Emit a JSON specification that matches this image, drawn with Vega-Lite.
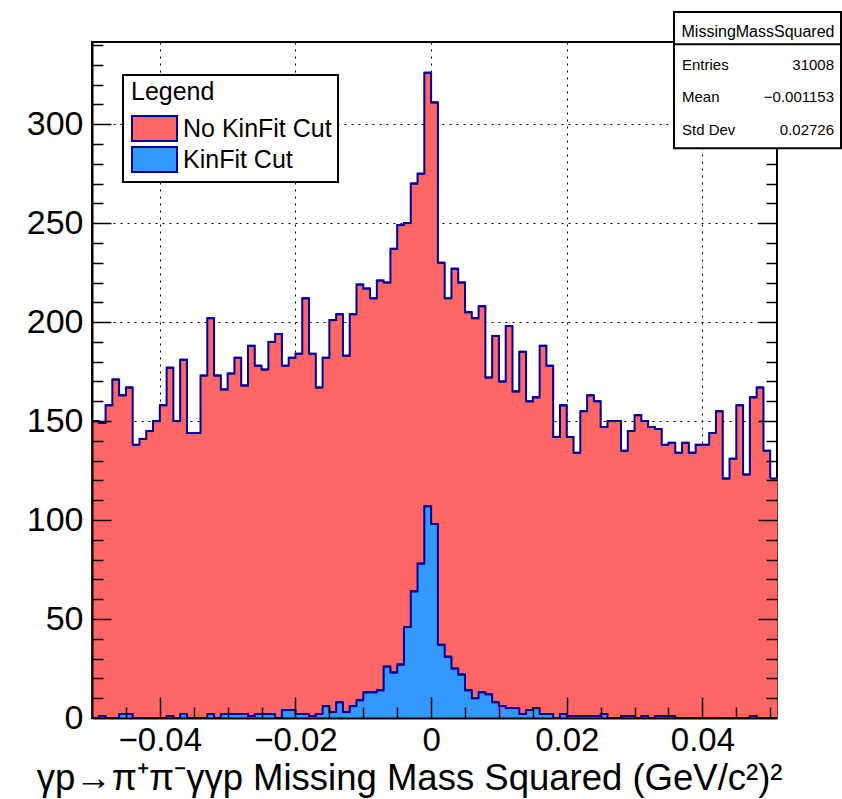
{
  "$schema": "https://vega.github.io/schema/vega-lite/v6.json",
  "width": 685,
  "height": 676,
  "autosize": {"type": "none"},
  "padding": {"left": 92, "top": 42, "right": 65, "bottom": 81},
  "background": "white",
  "config": {
    "view": {"stroke": "black", "strokeWidth": 2},
    "font": "Liberation Sans"
  },
  "datasets": {
    "red": [
      {"s":"No KinFit Cut","lo":-0.050,"hi":-0.049,"n":150},
      {"s":"No KinFit Cut","lo":-0.049,"hi":-0.048,"n":149},
      {"s":"No KinFit Cut","lo":-0.048,"hi":-0.047,"n":158},
      {"s":"No KinFit Cut","lo":-0.047,"hi":-0.046,"n":171},
      {"s":"No KinFit Cut","lo":-0.046,"hi":-0.045,"n":163},
      {"s":"No KinFit Cut","lo":-0.045,"hi":-0.044,"n":167},
      {"s":"No KinFit Cut","lo":-0.044,"hi":-0.043,"n":138},
      {"s":"No KinFit Cut","lo":-0.043,"hi":-0.042,"n":141},
      {"s":"No KinFit Cut","lo":-0.042,"hi":-0.041,"n":145},
      {"s":"No KinFit Cut","lo":-0.041,"hi":-0.040,"n":150},
      {"s":"No KinFit Cut","lo":-0.040,"hi":-0.039,"n":158},
      {"s":"No KinFit Cut","lo":-0.039,"hi":-0.038,"n":177},
      {"s":"No KinFit Cut","lo":-0.038,"hi":-0.037,"n":150},
      {"s":"No KinFit Cut","lo":-0.037,"hi":-0.036,"n":181},
      {"s":"No KinFit Cut","lo":-0.036,"hi":-0.035,"n":144},
      {"s":"No KinFit Cut","lo":-0.035,"hi":-0.034,"n":144},
      {"s":"No KinFit Cut","lo":-0.034,"hi":-0.033,"n":173},
      {"s":"No KinFit Cut","lo":-0.033,"hi":-0.032,"n":202},
      {"s":"No KinFit Cut","lo":-0.032,"hi":-0.031,"n":173},
      {"s":"No KinFit Cut","lo":-0.031,"hi":-0.030,"n":166},
      {"s":"No KinFit Cut","lo":-0.030,"hi":-0.029,"n":174},
      {"s":"No KinFit Cut","lo":-0.029,"hi":-0.028,"n":182},
      {"s":"No KinFit Cut","lo":-0.028,"hi":-0.027,"n":168},
      {"s":"No KinFit Cut","lo":-0.027,"hi":-0.026,"n":188},
      {"s":"No KinFit Cut","lo":-0.026,"hi":-0.025,"n":178},
      {"s":"No KinFit Cut","lo":-0.025,"hi":-0.024,"n":176},
      {"s":"No KinFit Cut","lo":-0.024,"hi":-0.023,"n":190},
      {"s":"No KinFit Cut","lo":-0.023,"hi":-0.022,"n":194},
      {"s":"No KinFit Cut","lo":-0.022,"hi":-0.021,"n":178},
      {"s":"No KinFit Cut","lo":-0.021,"hi":-0.020,"n":182},
      {"s":"No KinFit Cut","lo":-0.020,"hi":-0.019,"n":184},
      {"s":"No KinFit Cut","lo":-0.019,"hi":-0.018,"n":212},
      {"s":"No KinFit Cut","lo":-0.018,"hi":-0.017,"n":184},
      {"s":"No KinFit Cut","lo":-0.017,"hi":-0.016,"n":167},
      {"s":"No KinFit Cut","lo":-0.016,"hi":-0.015,"n":182},
      {"s":"No KinFit Cut","lo":-0.015,"hi":-0.014,"n":201},
      {"s":"No KinFit Cut","lo":-0.014,"hi":-0.013,"n":204},
      {"s":"No KinFit Cut","lo":-0.013,"hi":-0.012,"n":183},
      {"s":"No KinFit Cut","lo":-0.012,"hi":-0.011,"n":204},
      {"s":"No KinFit Cut","lo":-0.011,"hi":-0.010,"n":219},
      {"s":"No KinFit Cut","lo":-0.010,"hi":-0.009,"n":217},
      {"s":"No KinFit Cut","lo":-0.009,"hi":-0.008,"n":212},
      {"s":"No KinFit Cut","lo":-0.008,"hi":-0.007,"n":221},
      {"s":"No KinFit Cut","lo":-0.007,"hi":-0.006,"n":220},
      {"s":"No KinFit Cut","lo":-0.006,"hi":-0.005,"n":237},
      {"s":"No KinFit Cut","lo":-0.005,"hi":-0.004,"n":249},
      {"s":"No KinFit Cut","lo":-0.004,"hi":-0.003,"n":250},
      {"s":"No KinFit Cut","lo":-0.003,"hi":-0.002,"n":270},
      {"s":"No KinFit Cut","lo":-0.002,"hi":-0.001,"n":275},
      {"s":"No KinFit Cut","lo":-0.001,"hi":0.000,"n":326},
      {"s":"No KinFit Cut","lo":0.000,"hi":0.001,"n":311},
      {"s":"No KinFit Cut","lo":0.001,"hi":0.002,"n":230},
      {"s":"No KinFit Cut","lo":0.002,"hi":0.003,"n":212},
      {"s":"No KinFit Cut","lo":0.003,"hi":0.004,"n":227},
      {"s":"No KinFit Cut","lo":0.004,"hi":0.005,"n":220},
      {"s":"No KinFit Cut","lo":0.005,"hi":0.006,"n":205},
      {"s":"No KinFit Cut","lo":0.006,"hi":0.007,"n":202},
      {"s":"No KinFit Cut","lo":0.007,"hi":0.008,"n":208},
      {"s":"No KinFit Cut","lo":0.008,"hi":0.009,"n":172},
      {"s":"No KinFit Cut","lo":0.009,"hi":0.010,"n":193},
      {"s":"No KinFit Cut","lo":0.010,"hi":0.011,"n":170},
      {"s":"No KinFit Cut","lo":0.011,"hi":0.012,"n":198},
      {"s":"No KinFit Cut","lo":0.012,"hi":0.013,"n":165},
      {"s":"No KinFit Cut","lo":0.013,"hi":0.014,"n":185},
      {"s":"No KinFit Cut","lo":0.014,"hi":0.015,"n":160},
      {"s":"No KinFit Cut","lo":0.015,"hi":0.016,"n":162},
      {"s":"No KinFit Cut","lo":0.016,"hi":0.017,"n":188},
      {"s":"No KinFit Cut","lo":0.017,"hi":0.018,"n":178},
      {"s":"No KinFit Cut","lo":0.018,"hi":0.019,"n":142},
      {"s":"No KinFit Cut","lo":0.019,"hi":0.020,"n":158},
      {"s":"No KinFit Cut","lo":0.020,"hi":0.021,"n":142},
      {"s":"No KinFit Cut","lo":0.021,"hi":0.022,"n":134},
      {"s":"No KinFit Cut","lo":0.022,"hi":0.023,"n":155},
      {"s":"No KinFit Cut","lo":0.023,"hi":0.024,"n":163},
      {"s":"No KinFit Cut","lo":0.024,"hi":0.025,"n":160},
      {"s":"No KinFit Cut","lo":0.025,"hi":0.026,"n":147},
      {"s":"No KinFit Cut","lo":0.026,"hi":0.027,"n":150},
      {"s":"No KinFit Cut","lo":0.027,"hi":0.028,"n":150},
      {"s":"No KinFit Cut","lo":0.028,"hi":0.029,"n":135},
      {"s":"No KinFit Cut","lo":0.029,"hi":0.030,"n":145},
      {"s":"No KinFit Cut","lo":0.030,"hi":0.031,"n":153},
      {"s":"No KinFit Cut","lo":0.031,"hi":0.032,"n":150},
      {"s":"No KinFit Cut","lo":0.032,"hi":0.033,"n":147},
      {"s":"No KinFit Cut","lo":0.033,"hi":0.034,"n":146},
      {"s":"No KinFit Cut","lo":0.034,"hi":0.035,"n":138},
      {"s":"No KinFit Cut","lo":0.035,"hi":0.036,"n":139},
      {"s":"No KinFit Cut","lo":0.036,"hi":0.037,"n":134},
      {"s":"No KinFit Cut","lo":0.037,"hi":0.038,"n":139},
      {"s":"No KinFit Cut","lo":0.038,"hi":0.039,"n":134},
      {"s":"No KinFit Cut","lo":0.039,"hi":0.040,"n":138},
      {"s":"No KinFit Cut","lo":0.040,"hi":0.041,"n":138},
      {"s":"No KinFit Cut","lo":0.041,"hi":0.042,"n":144},
      {"s":"No KinFit Cut","lo":0.042,"hi":0.043,"n":155},
      {"s":"No KinFit Cut","lo":0.043,"hi":0.044,"n":121},
      {"s":"No KinFit Cut","lo":0.044,"hi":0.045,"n":131},
      {"s":"No KinFit Cut","lo":0.045,"hi":0.046,"n":158},
      {"s":"No KinFit Cut","lo":0.046,"hi":0.047,"n":123},
      {"s":"No KinFit Cut","lo":0.047,"hi":0.048,"n":162},
      {"s":"No KinFit Cut","lo":0.048,"hi":0.049,"n":167},
      {"s":"No KinFit Cut","lo":0.049,"hi":0.050,"n":135},
      {"s":"No KinFit Cut","lo":0.050,"hi":0.051,"n":121}
    ],
    "blue": [
      {"s":"KinFit Cut","lo":-0.050,"hi":-0.049,"n":0},
      {"s":"KinFit Cut","lo":-0.049,"hi":-0.048,"n":1},
      {"s":"KinFit Cut","lo":-0.048,"hi":-0.047,"n":0},
      {"s":"KinFit Cut","lo":-0.047,"hi":-0.046,"n":0},
      {"s":"KinFit Cut","lo":-0.046,"hi":-0.045,"n":2},
      {"s":"KinFit Cut","lo":-0.045,"hi":-0.044,"n":2},
      {"s":"KinFit Cut","lo":-0.044,"hi":-0.043,"n":0},
      {"s":"KinFit Cut","lo":-0.043,"hi":-0.042,"n":0},
      {"s":"KinFit Cut","lo":-0.042,"hi":-0.041,"n":0},
      {"s":"KinFit Cut","lo":-0.041,"hi":-0.040,"n":0},
      {"s":"KinFit Cut","lo":-0.040,"hi":-0.039,"n":0},
      {"s":"KinFit Cut","lo":-0.039,"hi":-0.038,"n":1},
      {"s":"KinFit Cut","lo":-0.038,"hi":-0.037,"n":0},
      {"s":"KinFit Cut","lo":-0.037,"hi":-0.036,"n":2},
      {"s":"KinFit Cut","lo":-0.036,"hi":-0.035,"n":0},
      {"s":"KinFit Cut","lo":-0.035,"hi":-0.034,"n":0},
      {"s":"KinFit Cut","lo":-0.034,"hi":-0.033,"n":0},
      {"s":"KinFit Cut","lo":-0.033,"hi":-0.032,"n":2},
      {"s":"KinFit Cut","lo":-0.032,"hi":-0.031,"n":0},
      {"s":"KinFit Cut","lo":-0.031,"hi":-0.030,"n":2},
      {"s":"KinFit Cut","lo":-0.030,"hi":-0.029,"n":2},
      {"s":"KinFit Cut","lo":-0.029,"hi":-0.028,"n":2},
      {"s":"KinFit Cut","lo":-0.028,"hi":-0.027,"n":2},
      {"s":"KinFit Cut","lo":-0.027,"hi":-0.026,"n":1},
      {"s":"KinFit Cut","lo":-0.026,"hi":-0.025,"n":2},
      {"s":"KinFit Cut","lo":-0.025,"hi":-0.024,"n":2},
      {"s":"KinFit Cut","lo":-0.024,"hi":-0.023,"n":2},
      {"s":"KinFit Cut","lo":-0.023,"hi":-0.022,"n":0},
      {"s":"KinFit Cut","lo":-0.022,"hi":-0.021,"n":4},
      {"s":"KinFit Cut","lo":-0.021,"hi":-0.020,"n":4},
      {"s":"KinFit Cut","lo":-0.020,"hi":-0.019,"n":2},
      {"s":"KinFit Cut","lo":-0.019,"hi":-0.018,"n":2},
      {"s":"KinFit Cut","lo":-0.018,"hi":-0.017,"n":1},
      {"s":"KinFit Cut","lo":-0.017,"hi":-0.016,"n":2},
      {"s":"KinFit Cut","lo":-0.016,"hi":-0.015,"n":6},
      {"s":"KinFit Cut","lo":-0.015,"hi":-0.014,"n":3},
      {"s":"KinFit Cut","lo":-0.014,"hi":-0.013,"n":8},
      {"s":"KinFit Cut","lo":-0.013,"hi":-0.012,"n":3},
      {"s":"KinFit Cut","lo":-0.012,"hi":-0.011,"n":6},
      {"s":"KinFit Cut","lo":-0.011,"hi":-0.010,"n":9},
      {"s":"KinFit Cut","lo":-0.010,"hi":-0.009,"n":13},
      {"s":"KinFit Cut","lo":-0.009,"hi":-0.008,"n":13},
      {"s":"KinFit Cut","lo":-0.008,"hi":-0.007,"n":14},
      {"s":"KinFit Cut","lo":-0.007,"hi":-0.006,"n":26},
      {"s":"KinFit Cut","lo":-0.006,"hi":-0.005,"n":23},
      {"s":"KinFit Cut","lo":-0.005,"hi":-0.004,"n":27},
      {"s":"KinFit Cut","lo":-0.004,"hi":-0.003,"n":46},
      {"s":"KinFit Cut","lo":-0.003,"hi":-0.002,"n":64},
      {"s":"KinFit Cut","lo":-0.002,"hi":-0.001,"n":78},
      {"s":"KinFit Cut","lo":-0.001,"hi":0.000,"n":107},
      {"s":"KinFit Cut","lo":0.000,"hi":0.001,"n":98},
      {"s":"KinFit Cut","lo":0.001,"hi":0.002,"n":37},
      {"s":"KinFit Cut","lo":0.002,"hi":0.003,"n":31},
      {"s":"KinFit Cut","lo":0.003,"hi":0.004,"n":25},
      {"s":"KinFit Cut","lo":0.004,"hi":0.005,"n":22},
      {"s":"KinFit Cut","lo":0.005,"hi":0.006,"n":14},
      {"s":"KinFit Cut","lo":0.006,"hi":0.007,"n":10},
      {"s":"KinFit Cut","lo":0.007,"hi":0.008,"n":13},
      {"s":"KinFit Cut","lo":0.008,"hi":0.009,"n":12},
      {"s":"KinFit Cut","lo":0.009,"hi":0.010,"n":8},
      {"s":"KinFit Cut","lo":0.010,"hi":0.011,"n":6},
      {"s":"KinFit Cut","lo":0.011,"hi":0.012,"n":5},
      {"s":"KinFit Cut","lo":0.012,"hi":0.013,"n":5},
      {"s":"KinFit Cut","lo":0.013,"hi":0.014,"n":2},
      {"s":"KinFit Cut","lo":0.014,"hi":0.015,"n":4},
      {"s":"KinFit Cut","lo":0.015,"hi":0.016,"n":5},
      {"s":"KinFit Cut","lo":0.016,"hi":0.017,"n":2},
      {"s":"KinFit Cut","lo":0.017,"hi":0.018,"n":2},
      {"s":"KinFit Cut","lo":0.018,"hi":0.019,"n":0},
      {"s":"KinFit Cut","lo":0.019,"hi":0.020,"n":2},
      {"s":"KinFit Cut","lo":0.020,"hi":0.021,"n":1},
      {"s":"KinFit Cut","lo":0.021,"hi":0.022,"n":1},
      {"s":"KinFit Cut","lo":0.022,"hi":0.023,"n":1},
      {"s":"KinFit Cut","lo":0.023,"hi":0.024,"n":1},
      {"s":"KinFit Cut","lo":0.024,"hi":0.025,"n":1},
      {"s":"KinFit Cut","lo":0.025,"hi":0.026,"n":2},
      {"s":"KinFit Cut","lo":0.026,"hi":0.027,"n":0},
      {"s":"KinFit Cut","lo":0.027,"hi":0.028,"n":0},
      {"s":"KinFit Cut","lo":0.028,"hi":0.029,"n":1},
      {"s":"KinFit Cut","lo":0.029,"hi":0.030,"n":1},
      {"s":"KinFit Cut","lo":0.030,"hi":0.031,"n":0},
      {"s":"KinFit Cut","lo":0.031,"hi":0.032,"n":1},
      {"s":"KinFit Cut","lo":0.032,"hi":0.033,"n":0},
      {"s":"KinFit Cut","lo":0.033,"hi":0.034,"n":1},
      {"s":"KinFit Cut","lo":0.034,"hi":0.035,"n":1},
      {"s":"KinFit Cut","lo":0.035,"hi":0.036,"n":1},
      {"s":"KinFit Cut","lo":0.036,"hi":0.037,"n":0},
      {"s":"KinFit Cut","lo":0.037,"hi":0.038,"n":0},
      {"s":"KinFit Cut","lo":0.038,"hi":0.039,"n":0},
      {"s":"KinFit Cut","lo":0.039,"hi":0.040,"n":0},
      {"s":"KinFit Cut","lo":0.040,"hi":0.041,"n":0},
      {"s":"KinFit Cut","lo":0.041,"hi":0.042,"n":0},
      {"s":"KinFit Cut","lo":0.042,"hi":0.043,"n":0},
      {"s":"KinFit Cut","lo":0.043,"hi":0.044,"n":0},
      {"s":"KinFit Cut","lo":0.044,"hi":0.045,"n":0},
      {"s":"KinFit Cut","lo":0.045,"hi":0.046,"n":0},
      {"s":"KinFit Cut","lo":0.046,"hi":0.047,"n":0},
      {"s":"KinFit Cut","lo":0.047,"hi":0.048,"n":1},
      {"s":"KinFit Cut","lo":0.048,"hi":0.049,"n":0},
      {"s":"KinFit Cut","lo":0.049,"hi":0.050,"n":0},
      {"s":"KinFit Cut","lo":0.050,"hi":0.051,"n":0}
    ]
  },
  "resolve": {"axis": {"x": "independent", "y": "independent"}},
  "layer": [
    {
      "data": {"name": "red"},
      "mark": {"type": "rect", "stroke": "#ff6666", "strokeWidth": 1},
      "encoding": {
        "x": {"field": "lo", "type": "quantitative",
          "scale": {"domain": [-0.05, 0.051], "nice": false, "zero": false},
          "axis": {"orient": "bottom", "values": [-0.04, -0.02, 0, 0.02, 0.04],
            "labelExpr": "datum.value == 0 ? '0' : format(datum.value, '.2f')",
            "labelFontSize": 33, "labelColor": "black", "labelPadding": 6, "labelFlush": false, "labelOverlap": false,
            "ticks": false, "tickSize": 0, "domain": false,
            "grid": true, "gridColor": "black", "gridDash": [2, 5], "gridWidth": 1, "gridOpacity": 1,
            "title": "γp→π⁺π⁻γγp Missing Mass Squared (GeV/c²)²",
            "titleFontSize": 36.5, "titleFontWeight": "normal", "titleColor": "black",
            "titleAlign": "right", "titleAnchor": "end", "titleX": 690, "titleY": 71, "titleBaseline": "alphabetic",
            "zindex": 0}},
        "x2": {"field": "hi"},
        "y": {"field": "n", "type": "quantitative", "stack": null,
          "scale": {"domain": [0, 341.5], "nice": false, "zero": true},
          "axis": {"orient": "left", "values": [0, 50, 100, 150, 200, 250, 300],
            "labelFontSize": 34, "labelColor": "black", "labelPadding": 9,
            "ticks": false, "tickSize": 0, "domain": false,
            "grid": true, "gridColor": "black", "gridDash": [2, 5], "gridWidth": 1, "gridOpacity": 1,
            "title": null, "zindex": 0}},
        "y2": {"datum": 0},
        "fill": {"field": "s", "type": "nominal",
          "scale": {"domain": ["No KinFit Cut", "KinFit Cut"], "range": ["#ff6666", "#3399ff"]},
          "legend": {"orient": "none", "legendX": 31, "legendY": 33, "title": "Legend",
            "titleFontSize": 25, "titleFontWeight": "normal", "titleColor": "black", "titlePadding": 9,
            "labelFontSize": 25, "labelColor": "black", "labelOffset": 15,
            "symbolType": "M-1.8,-1H1.8V1H-1.8Z", "symbolSize": 625, "symbolOffset": 12,
            "symbolStrokeColor": "#000099", "symbolStrokeWidth": 2, "symbolOpacity": 1,
            "rowPadding": -2, "padding": 6, "strokeColor": "black",
            "fillColor": "white", "cornerRadius": 0,
            "encode": {"legend": {"update": {"strokeWidth": {"value": 2}}},
                       "title": {"update": {"dx": {"value": 2}, "dy": {"value": -1}}}}}}
      }
    },
    {
      "data": {"name": "red"},
      "mark": {"type": "rule", "color": "#000099", "strokeWidth": 2},
      "encoding": {
        "x": {"field": "lo", "type": "quantitative",
          "axis": {"orient": "bottom", "values": [-0.04, -0.02, 0, 0.02, 0.04], "labels": false,
            "ticks": true, "tickSize": -21, "tickColor": "black", "tickWidth": 1.5,
            "domain": true, "domainColor": "black", "domainWidth": 2, "grid": false, "title": null, "zindex": 1}},
        "x2": {"field": "hi"},
        "y": {"field": "n", "type": "quantitative", "stack": null,
          "axis": {"orient": "left", "values": [50, 100, 150, 200, 250, 300], "labels": false,
            "ticks": true, "tickSize": -19, "tickColor": "black", "tickWidth": 1.5,
            "domain": true, "domainColor": "black", "domainWidth": 2, "grid": false, "title": null, "zindex": 1}}
      }
    },
    {
      "data": {"name": "red"},
      "mark": {"type": "line", "interpolate": "step-after", "color": "#000099", "strokeWidth": 2},
      "encoding": {
        "x": {"field": "lo", "type": "quantitative",
          "axis": {"orient": "bottom", "values": [-0.045, -0.035, -0.03, -0.025, -0.015, -0.01, -0.005, 0.005, 0.01, 0.015, 0.025, 0.03, 0.035, 0.045, 0.05],
            "labels": false, "ticks": true, "tickSize": -11, "tickColor": "black", "tickWidth": 1.5,
            "domain": false, "grid": false, "title": null, "zindex": 1}},
        "y": {"field": "n", "type": "quantitative", "stack": null,
          "axis": {"orient": "left", "values": [10, 20, 30, 40, 60, 70, 80, 90, 110, 120, 130, 140, 160, 170, 180, 190, 210, 220, 230, 240, 260, 270, 280, 290, 310, 320, 330, 340],
            "labels": false, "ticks": true, "tickSize": -11, "tickColor": "black", "tickWidth": 1.5,
            "domain": false, "grid": false, "title": null, "zindex": 1}}
      }
    },
    {
      "data": {"name": "blue"},
      "mark": {"type": "rect", "stroke": "#3399ff", "strokeWidth": 1},
      "encoding": {
        "x": {"field": "lo", "type": "quantitative", "axis": null},
        "x2": {"field": "hi"},
        "y": {"field": "n", "type": "quantitative", "stack": null,
          "axis": {"orient": "right", "values": [50, 100, 150, 200, 250], "labels": false,
            "ticks": true, "tickSize": -19, "tickColor": "black", "tickWidth": 1.5,
            "domain": false, "grid": false, "title": null, "zindex": 1}},
        "y2": {"datum": 0},
        "fill": {"field": "s", "type": "nominal"}
      }
    },
    {
      "data": {"name": "blue"},
      "mark": {"type": "rule", "color": "#000099", "strokeWidth": 2},
      "encoding": {
        "x": {"field": "lo", "type": "quantitative", "axis": null},
        "x2": {"field": "hi"},
        "y": {"field": "n", "type": "quantitative", "stack": null,
          "axis": {"orient": "right", "values": [10, 20, 30, 40, 60, 70, 80, 90, 110, 120, 130, 140, 160, 170, 180, 190, 210, 220, 230, 240, 260, 270, 280],
            "labels": false, "ticks": true, "tickSize": -11, "tickColor": "black", "tickWidth": 1.5,
            "domain": false, "grid": false, "title": null, "zindex": 1}}
      }
    },
    {
      "data": {"name": "blue"},
      "mark": {"type": "line", "interpolate": "step-after", "color": "#000099", "strokeWidth": 2},
      "encoding": {
        "x": {"field": "lo", "type": "quantitative", "axis": null},
        "y": {"field": "n", "type": "quantitative", "stack": null, "axis": null}
      }
    },
    {
      "data": {"values": [{"box": "MissingMassSquared"}]},
      "mark": {"type": "rect", "fill": "white", "stroke": "black", "strokeWidth": 2},
      "encoding": {
        "x": {"datum": 0.03581, "type": "quantitative", "axis": null},
        "x2": {"datum": 0.06044},
        "y": {"datum": 356.66, "type": "quantitative", "axis": null},
        "y2": {"datum": 287.8}
      }
    },
    {
      "data": {"values": [{"box": "MissingMassSquared"}]},
      "mark": {"type": "rule", "color": "black", "strokeWidth": 2},
      "encoding": {
        "x": {"datum": 0.03581, "type": "quantitative", "axis": null},
        "x2": {"datum": 0.06044},
        "y": {"datum": 340.4, "type": "quantitative", "axis": null}
      }
    },
    {
      "data": {"values": [{"box": "MissingMassSquared"}]},
      "mark": {"type": "text", "fontSize": 16, "align": "center", "baseline": "middle", "color": "black"},
      "encoding": {
        "x": {"datum": 0.0482, "type": "quantitative", "axis": null},
        "y": {"datum": 346.7, "type": "quantitative", "axis": null},
        "text": {"field": "box"}
      }
    },
    {
      "data": {"values": [{"name": "Entries", "value": "31008"}]},
      "layer": [
        {"mark": {"type": "text", "fontSize": 15, "align": "left", "baseline": "middle", "color": "black"},
          "encoding": {"x": {"datum": 0.03699, "type": "quantitative", "axis": null},
            "y": {"datum": 329.9, "type": "quantitative", "axis": null}, "text": {"field": "name"}}},
        {"mark": {"type": "text", "fontSize": 15, "align": "right", "baseline": "middle", "color": "black"},
          "encoding": {"x": {"datum": 0.05941, "type": "quantitative", "axis": null},
            "y": {"datum": 329.9, "type": "quantitative", "axis": null}, "text": {"field": "value"}}}
      ]
    },
    {
      "data": {"values": [{"name": "Mean", "value": "−0.001153"}]},
      "layer": [
        {"mark": {"type": "text", "fontSize": 15, "align": "left", "baseline": "middle", "color": "black"},
          "encoding": {"x": {"datum": 0.03699, "type": "quantitative", "axis": null},
            "y": {"datum": 313.9, "type": "quantitative", "axis": null}, "text": {"field": "name"}}},
        {"mark": {"type": "text", "fontSize": 15, "align": "right", "baseline": "middle", "color": "black"},
          "encoding": {"x": {"datum": 0.05941, "type": "quantitative", "axis": null},
            "y": {"datum": 313.9, "type": "quantitative", "axis": null}, "text": {"field": "value"}}}
      ]
    },
    {
      "data": {"values": [{"name": "Std Dev", "value": "0.02726"}]},
      "layer": [
        {"mark": {"type": "text", "fontSize": 15, "align": "left", "baseline": "middle", "color": "black"},
          "encoding": {"x": {"datum": 0.03699, "type": "quantitative", "axis": null},
            "y": {"datum": 297.0, "type": "quantitative", "axis": null}, "text": {"field": "name"}}},
        {"mark": {"type": "text", "fontSize": 15, "align": "right", "baseline": "middle", "color": "black"},
          "encoding": {"x": {"datum": 0.05941, "type": "quantitative", "axis": null},
            "y": {"datum": 297.0, "type": "quantitative", "axis": null}, "text": {"field": "value"}}}
      ]
    }
  ]
}
